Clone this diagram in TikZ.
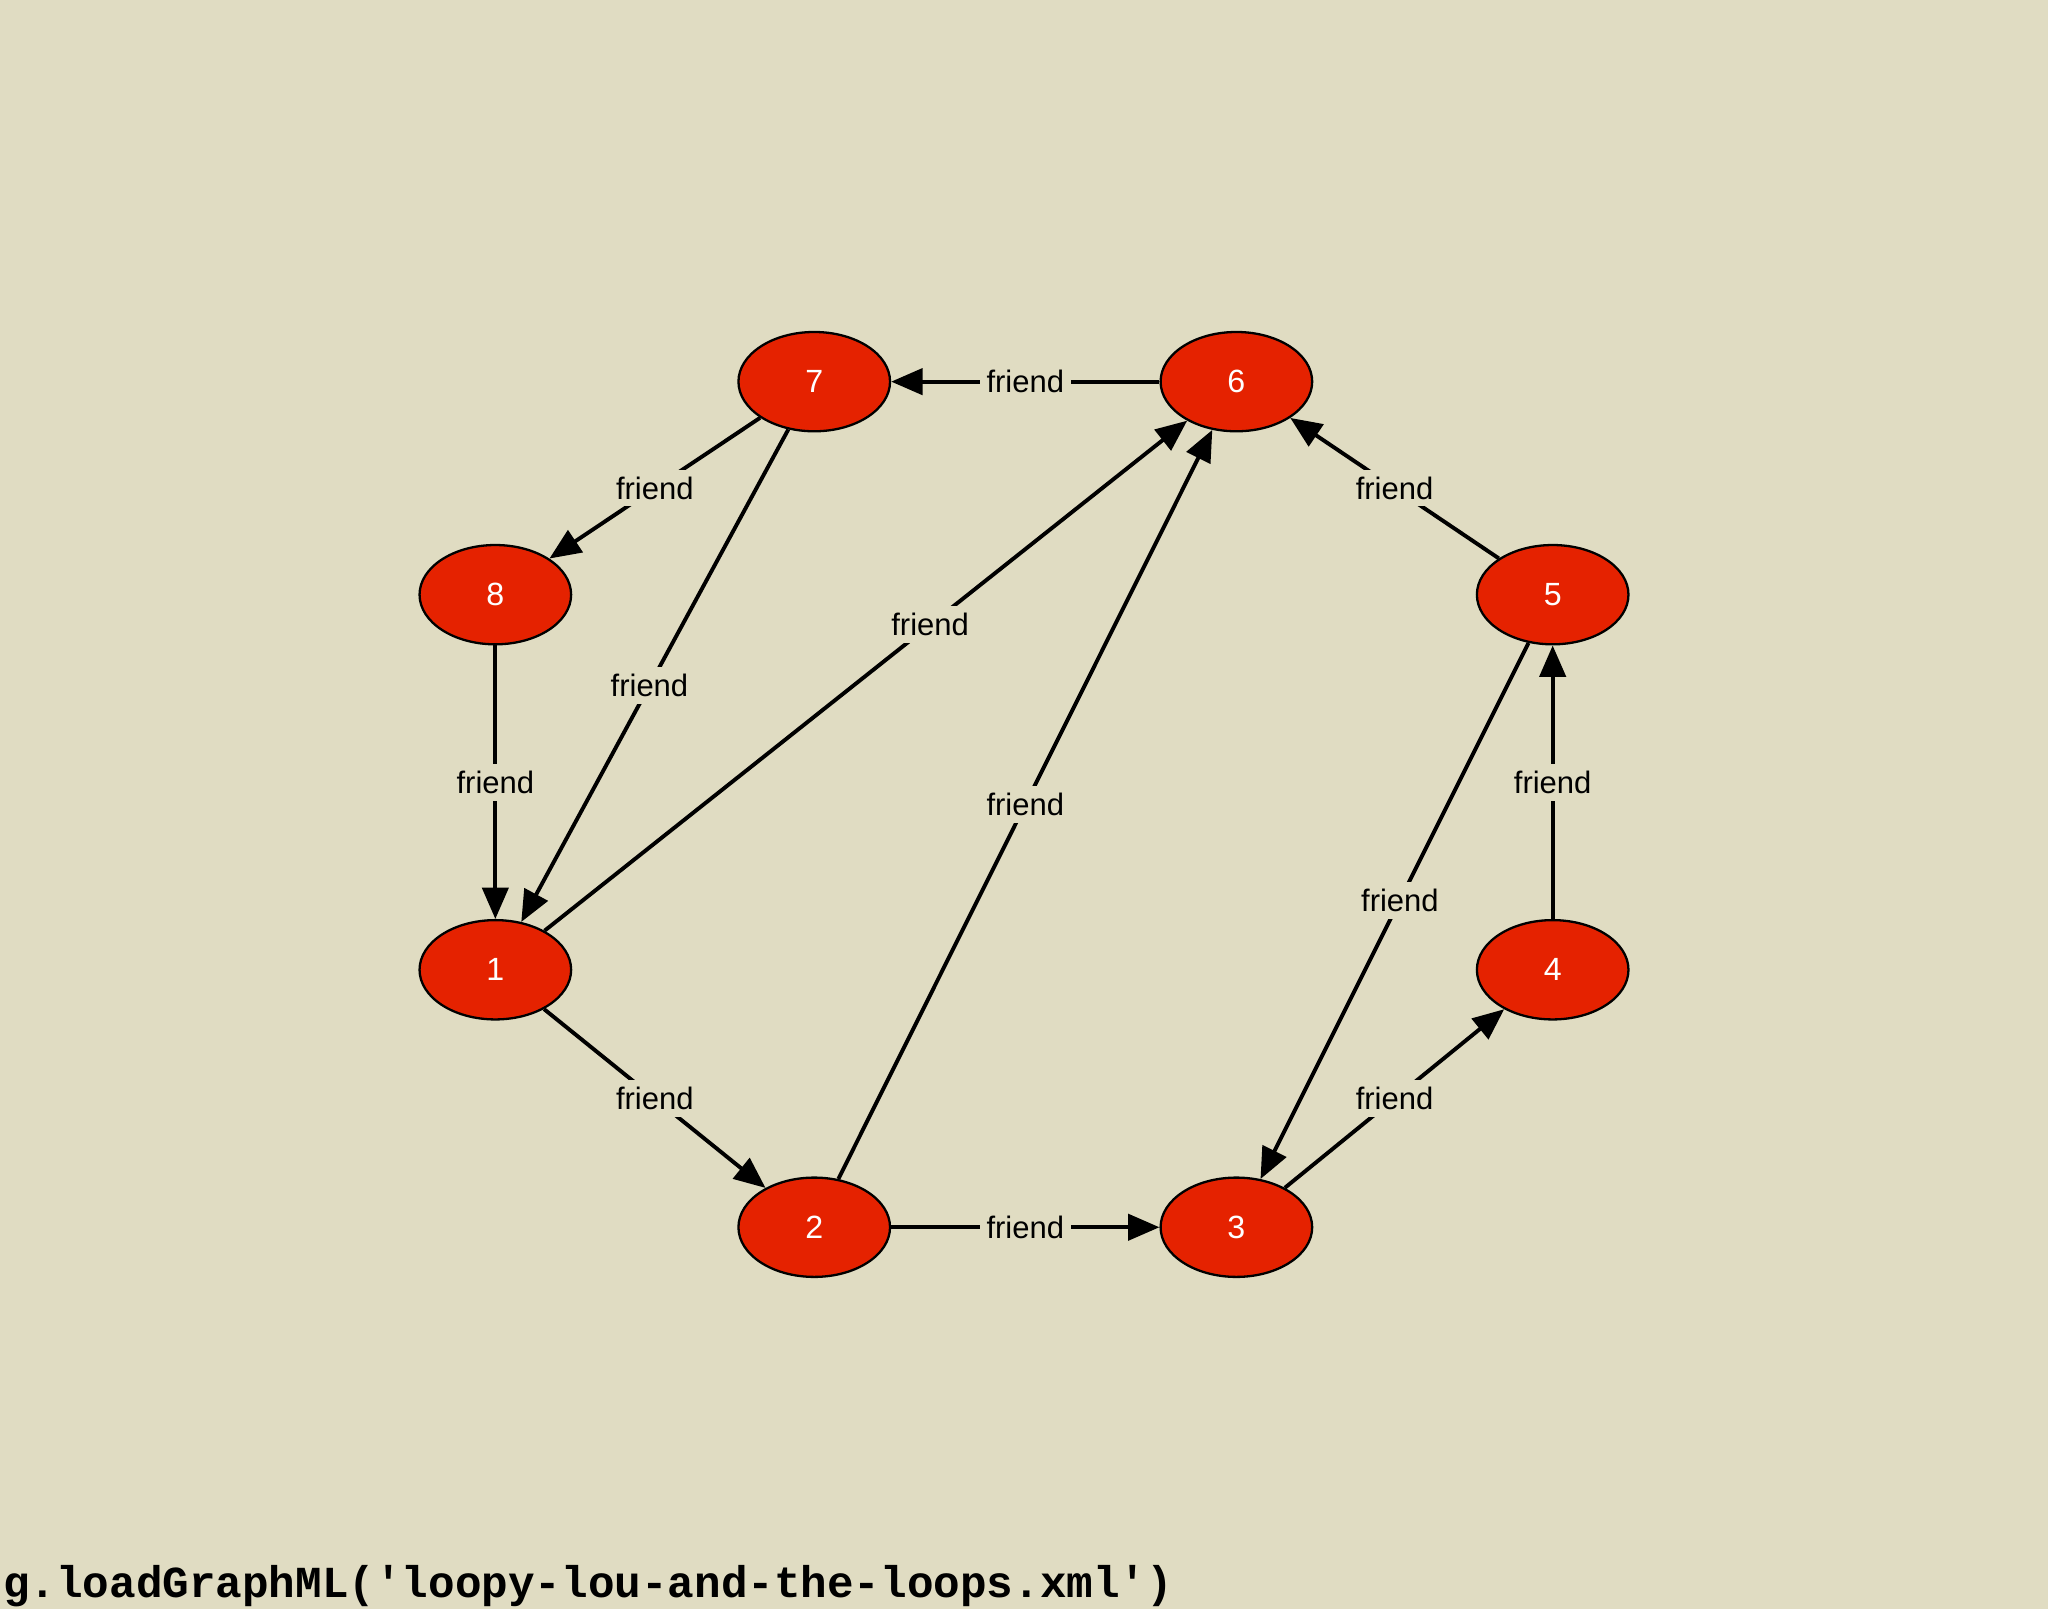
\documentclass[tikz,border=0pt]{standalone}
\usepackage{fontspec}
\setmainfont{Liberation Sans}
\newfontfamily\monofont{Liberation Mono}
\usetikzlibrary{arrows.meta,shapes.geometric}
\definecolor{bg}{HTML}{E0DCC2}
\definecolor{nodered}{HTML}{E52200}
\tikzset{
  vert/.style={ellipse,draw=black,line width=1pt,fill=nodered,minimum width=2.32cm,minimum height=1.52cm,inner sep=0pt,text=white,font=\fontsize{14}{16}\selectfont},
  edge/.style={line width=1.7pt,-{Triangle[length=0.48cm,width=0.4cm]}},
  lab/.style={fill=bg,inner sep=3pt,font=\fontsize{13.5}{16}\selectfont,text=black}
}
\begin{document}
\begin{tikzpicture}[x=0.02cm,y=-0.02cm]
\fill[bg] (0,0) rectangle (1567,1231);
\useasboundingbox (0,0) rectangle (1567,1231);
\node[vert] (n7) at (623,292) {7};
\node[vert] (n6) at (946,292) {6};
\node[vert] (n8) at (379,455) {8};
\node[vert] (n5) at (1188,455) {5};
\node[vert] (n1) at (379,742) {1};
\node[vert] (n4) at (1188,742) {4};
\node[vert] (n2) at (623,939) {2};
\node[vert] (n3) at (946,939) {3};
\draw[edge] (n6) -- node[lab,pos=0.5]{friend} (n7);
\draw[edge] (n7) -- node[lab]{friend} (n8);
\draw[edge] (n8) -- node[lab]{friend} (n1);
\draw[edge] (n7) -- node[lab,pos=0.52]{friend} (n1);
\draw[edge] (n1) -- node[lab,pos=0.6]{friend} (n6);
\draw[edge] (n2) -- node[lab,pos=0.5]{friend} (n6);
\draw[edge] (n5) -- node[lab]{friend} (n6);
\draw[edge] (n4) -- node[lab]{friend} (n5);
\draw[edge] (n5) -- node[lab,pos=0.48]{friend} (n3);
\draw[edge] (n3) -- node[lab]{friend} (n4);
\draw[edge] (n1) -- node[lab]{friend} (n2);
\draw[edge] (n2) -- node[lab]{friend} (n3);
\node[anchor=base west,inner sep=0pt,font=\monofont\bfseries\fontsize{19.3}{22}\selectfont] (code) at (2,1222) {g.loadGraphML('loopy-lou-and-the-loops.xml')};
\end{tikzpicture}
\end{document}
